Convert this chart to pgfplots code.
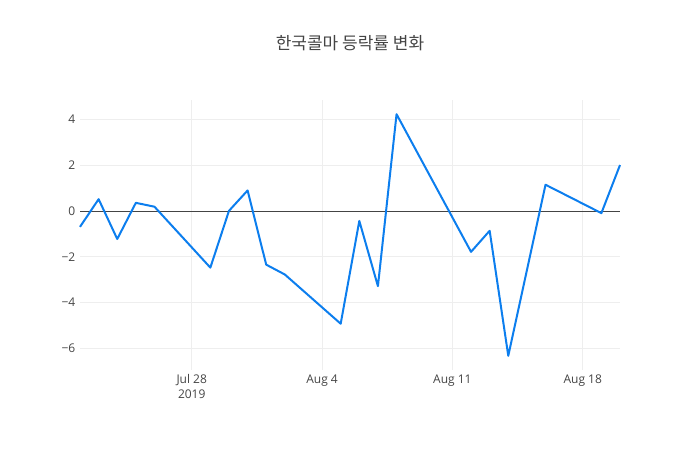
\documentclass[border=0pt]{standalone}
\usepackage{pgfplots}
\pgfplotsset{compat=1.18}
\usepackage{fontspec}
\setmainfont{Open Sans}
\newfontfamily\krfont{Noto Sans CJK KR}
\definecolor{txt}{HTML}{444444}
\definecolor{gridc}{HTML}{EEEEEE}
\definecolor{linec}{RGB}{12,126,238}

% days counted from Jul 28 2019
\pgfplotstableread{
day  chg
-6  -0.69
-5   0.52
-4  -1.22
-3   0.36
-2   0.19
 1  -2.47
 2   0.01
 3   0.90
 4  -2.34
 5  -2.77
 8  -4.92
 9  -0.43
10  -3.28
11   4.23
15  -1.78
16  -0.86
17  -6.32
19   1.15
22  -0.09
23   2.01
}\rates

\begin{document}
\begin{tikzpicture}
\path[use as bounding box] (-60pt,-60pt) rectangle (465pt,277.5pt);
\begin{axis}[
  at={(0,0)}, anchor=south west,
  scale only axis,
  width=405pt, height=202.5pt,
  xmin=-6, xmax=23,
  ymin=-6.94, ymax=4.85,
  axis line style={draw=none},
  tick style={draw=none},
  xtick={0,7,14,21},
  xticklabels={{Jul 28\\2019},{Aug 4},{Aug 11},{Aug 18}},
  xticklabel style={align=center, font=\fontsize{9}{11}\selectfont, text=txt},
  ytick={-6,-4,-2,0,2,4},
  yticklabels={−6,−4,−2,0,2,4},
  yticklabel style={font=\fontsize{9}{11}\selectfont, text=txt},
  grid=major,
  major grid style={gridc, line width=0.75pt},
  clip=false,
]
\addplot[txt, line width=0.75pt, forget plot] coordinates {(-6,0) (23,0)};
\addplot[linec, line width=1.5pt, line join=round] table[x=day, y=chg] {\rates};
\end{axis}
\node[text=txt, font=\krfont\fontsize{12.75}{15}\selectfont] at (202.5pt,245pt) {한국콜마 등락률 변화};
\end{tikzpicture}
\end{document}
